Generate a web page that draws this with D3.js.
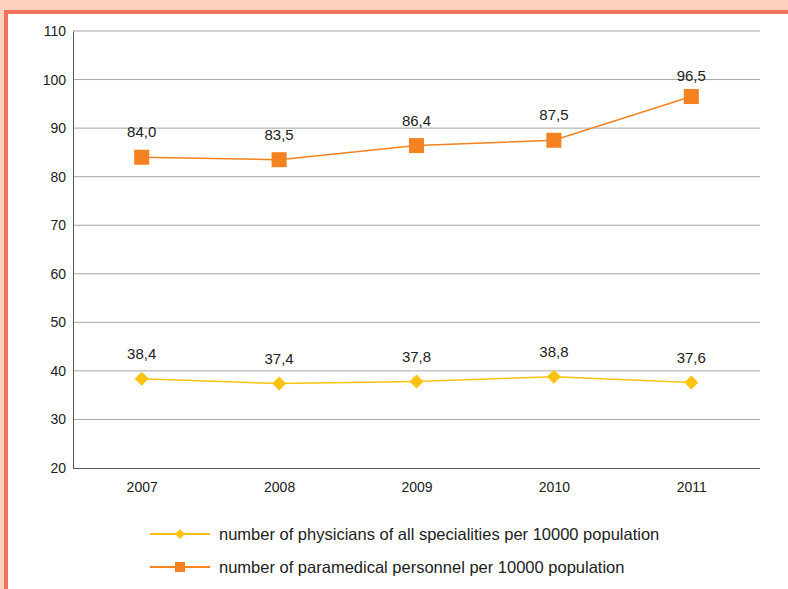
<!DOCTYPE html>
<html><head><meta charset="utf-8">
<script src="https://cdn.jsdelivr.net/npm/d3@7"></script>
<style>html,body{margin:0;padding:0;background:#fff;}svg{display:block;font-family:"Liberation Sans",Arial,sans-serif;}</style>
</head><body>
<script>
const years = ["2007","2008","2009","2010","2011"];
const physicians = [38.4, 37.4, 37.8, 38.8, 37.6];
const paramedical = [84.0, 83.5, 86.4, 87.5, 96.5];
const yTicks = [20,30,40,50,60,70,80,90,100,110];
const legendLabels = ["number of physicians of all specialities per 10000 population","number of paramedical personnel per 10000 population"];

const W=788,H=589;
const svg=d3.select("body").append("svg").attr("width",W).attr("height",H);
// frame
svg.append("rect").attr("x",0).attr("y",0).attr("width",W).attr("height",11).attr("fill","#FCD0BF");
svg.append("rect").attr("x",0).attr("y",0).attr("width",4).attr("height",H).attr("fill","#FCD0BF");
svg.append("rect").attr("x",4).attr("y",10).attr("width",W-4).attr("height",4).attr("fill","#F0725B");
svg.append("rect").attr("x",4).attr("y",10).attr("width",4).attr("height",H-10).attr("fill","#F0725B");

const L=73,R=760,T=31,B=468;
const x=d3.scalePoint().domain(years).range([L,R]).padding(0.5);
const y=d3.scaleLinear().domain([20,110]).range([B,T]);
const fmt=v=>v.toFixed(1).replace(".",",");

// grid
svg.append("g").selectAll("line").data(yTicks.filter(t=>t>20)).join("line")
 .attr("x1",L).attr("x2",R).attr("y1",d=>y(d)).attr("y2",d=>y(d))
 .attr("stroke","#a6a6a6").attr("stroke-width",1);
// axes
const yAxis=svg.append("g").attr("transform",`translate(${L},0)`).call(d3.axisLeft(y).tickValues(yTicks).tickSize(0).tickPadding(7));
yAxis.select(".domain").attr("stroke","#555");
yAxis.selectAll("text").attr("font-size",14).attr("fill","#222").attr("font-family","Liberation Sans, Arial, sans-serif");
const xAxis=svg.append("g").attr("transform",`translate(0,${B})`).call(d3.axisBottom(x).tickSize(0).tickPadding(14));
xAxis.select(".domain").attr("stroke","#555").attr("d",`M${L},0.5H${R}`);
xAxis.selectAll("text").attr("font-size",14).attr("fill","#222").attr("font-family","Liberation Sans, Arial, sans-serif");

const line=d3.line().x((d,i)=>x(years[i])).y(d=>y(d));
const yellow="#FFC20E", orange="#F58220";

// physicians
svg.append("path").datum(physicians).attr("d",line).attr("fill","none").attr("stroke",yellow).attr("stroke-width",1.5);
const diamond=s=>`M0,${-s}L${s},0L0,${s}L${-s},0Z`;
svg.append("g").selectAll("path").data(physicians).join("path")
 .attr("transform",(d,i)=>`translate(${x(years[i])},${y(d)})`).attr("d",diamond(7)).attr("fill",yellow);
svg.append("g").selectAll("text").data(physicians).join("text")
 .attr("x",(d,i)=>x(years[i])).attr("y",d=>y(d)-20).attr("text-anchor","middle")
 .attr("font-size",15).attr("fill","#222").text(fmt);

// paramedical
svg.append("path").datum(paramedical).attr("d",line).attr("fill","none").attr("stroke",orange).attr("stroke-width",1.5);
svg.append("g").selectAll("rect").data(paramedical).join("rect")
 .attr("x",(d,i)=>x(years[i])-7.5).attr("y",d=>y(d)-7.5).attr("width",15).attr("height",15).attr("fill",orange);
svg.append("g").selectAll("text").data(paramedical).join("text")
 .attr("x",(d,i)=>x(years[i])).attr("y",(d,i)=>y(d)-(i===4?16:20)).attr("text-anchor","middle")
 .attr("font-size",15).attr("fill","#222").text(fmt);

// legend
const lg=svg.append("g");
[[534,yellow,"d"],[567,orange,"s"]].forEach((r,i)=>{
  lg.append("line").attr("x1",150).attr("x2",210).attr("y1",r[0]).attr("y2",r[0]).attr("stroke",r[1]).attr("stroke-width",2);
  if(r[2]==="d") lg.append("path").attr("transform",`translate(180,${r[0]})`).attr("d",diamond(5)).attr("fill",r[1]);
  else lg.append("rect").attr("x",175).attr("y",r[0]-5).attr("width",10).attr("height",10).attr("fill",r[1]);
  lg.append("text").attr("x",219).attr("y",r[0]+5.5).attr("font-size",16.5).attr("fill","#222").text(legendLabels[i]);
});
</script>
</body></html>
